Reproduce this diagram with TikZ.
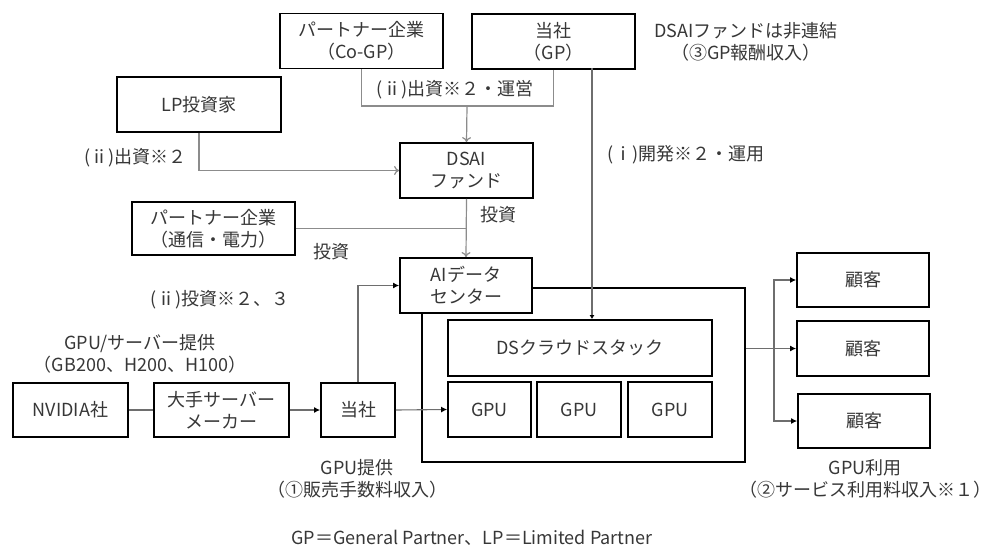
\documentclass[tikz,border=0pt]{standalone}
\usepackage{fontspec}
\setmainfont{Noto Sans CJK JP}
\usetikzlibrary{arrows.meta}
\definecolor{txt}{RGB}{55,55,55}
\definecolor{ln}{RGB}{140,140,140}
\definecolor{ln2}{RGB}{110,110,110}
\tikzset{
  box/.style={draw=black, line width=1.8pt, fill=white, text=txt, align=center, inner sep=0pt,
              font=\fontsize{18}{22}\selectfont},
  lbl/.style={text=txt, align=center, inner sep=0pt, font=\fontsize{18}{22}\selectfont},
  gconn/.style={draw=ln, line width=1.2pt},
  garrow/.style={gconn, -{To[length=5pt,width=9pt]}},
  bconn/.style={draw=ln2, line width=1.1pt},
  barrow/.style={bconn, -{Latex[length=6pt,width=6pt,color=black]}},
}
\begin{document}
\begin{tikzpicture}[x=1pt,y=-1pt]
\useasboundingbox[fill=white] (0,0) rectangle (990,551);
% outer data center box
\node[box, minimum width=323pt, minimum height=174pt] (outer) at (583.5,375) {};
% boxes
\node[box, minimum width=163pt, minimum height=55pt] (cogp) at (361.5,41) {パートナー企業\\（Co-GP）};
\node[box, minimum width=163pt, minimum height=55pt] (gp) at (553.5,41.5) {当社\\（GP）};
\node[box, minimum width=164pt, minimum height=55pt] (lp) at (199,104.5) {LP投資家};
\node[box, minimum width=133pt, minimum height=55pt] (fund) at (466.5,170.5) {DSAI\\ファンド};
\node[box, minimum width=163pt, minimum height=53pt] (ptel) at (213.5,228.5) {パートナー企業\\（通信・電力）};
\node[box, minimum width=132pt, minimum height=55pt] (aidc) at (466,285.5) {AIデータ\\センター};
\node[box, minimum width=264pt, minimum height=56pt] (ds) at (580,348) {DSクラウドスタック};
\node[box, minimum width=83pt, minimum height=55pt] (gpu1) at (489.5,409.5) {GPU};
\node[box, minimum width=84pt, minimum height=55pt] (gpu2) at (579,409.5) {GPU};
\node[box, minimum width=84pt, minimum height=55pt] (gpu3) at (670,409.5) {GPU};
\node[box, minimum width=115pt, minimum height=54pt] (nvidia) at (70.5,410) {NVIDIA社};
\node[box, minimum width=135pt, minimum height=54pt] (maker) at (221.5,410) {大手サーバー\\メーカー};
\node[box, minimum width=74pt, minimum height=54pt] (us) at (358,410) {当社};
\node[box, minimum width=132pt, minimum height=54pt] (c1) at (863,280) {顧客};
\node[box, minimum width=132pt, minimum height=55pt] (c2) at (863,348.5) {顧客};
\node[box, minimum width=132pt, minimum height=54pt] (c3) at (864,421) {顧客};
% upper connectors
\coordinate (j1) at (467,106);
\draw[gconn] (cogp.south) |- (j1) -| (gp.south);
\draw[garrow] (j1) -- (fund.north);
\draw[garrow] (lp.south) |- (fund.west);
\draw[garrow] (fund.south) -- (aidc.north);
\draw[gconn] (ptel.east) -- (ptel.east -| fund.south);
\coordinate (gpd) at (592,68.5);
\draw[bconn, -{Latex[length=4pt,width=5pt,color=black]}] (gpd) -- (gpd |- ds.north);
% lower connectors
\draw[bconn] (nvidia.east) -- (maker.west);
\draw[barrow] (maker.east) -- (us.west);
\draw[barrow] (us.north) |- (aidc.west);
\draw[barrow] (us.east) -- (gpu1.west);
\coordinate (br) at (774,348.5);
\draw[barrow] (c2.west -| outer.east) -- (c2.west);
\draw[barrow] (br) |- (c1.west);
\draw[barrow] (br) |- (c3.west);
% labels
\node[lbl] (l1) at (455,90) {(ⅱ)出資※２・運営};
\node[lbl] (l2) at (135.5,158) {(ⅱ)出資※２};
\node[lbl] (l3) at (686,155) {(ⅰ)開発※２・運用};
\node[lbl] (l4) at (746,41.5) {DSAIファンドは非連結\\（③GP報酬収入）};
\node[lbl] (l5) at (498,215) {投資};
\node[lbl] (l6) at (331,252) {投資};
\node[lbl] (l7) at (220,300) {(ⅱ)投資※２、３};
\node[lbl] (l8) at (140,354) {GPU/サーバー提供\\（GB200、H200、H100）};
\node[lbl] (l9) at (357,479) {GPU提供\\（①販売手数料収入）};
\node[lbl] (l10) at (865,479) {GPU利用\\（②サービス利用料収入※１）};
\node[lbl] (l11) at (472,538) {GP＝General Partner、LP＝Limited Partner};
\end{tikzpicture}
\end{document}
